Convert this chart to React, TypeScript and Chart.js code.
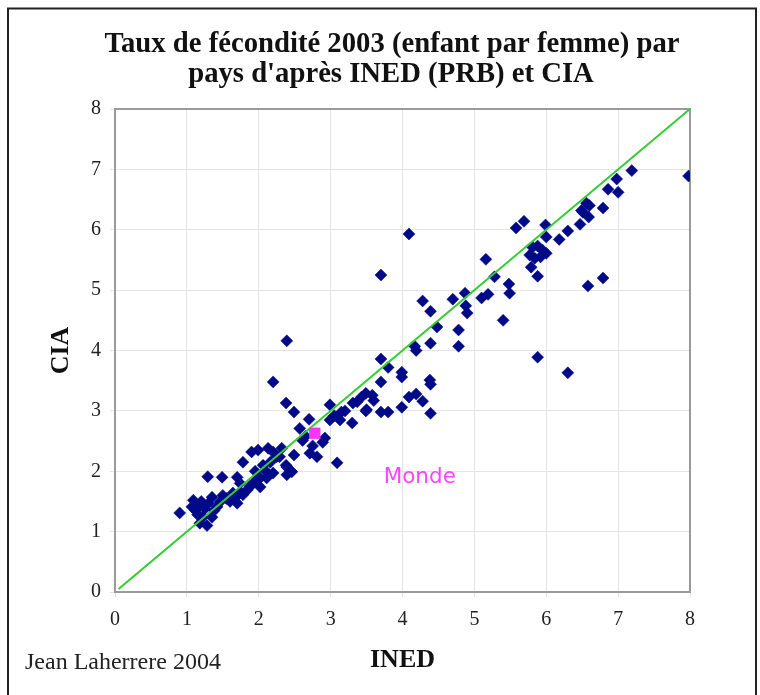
import React, { useEffect, useRef } from "react";
import { Chart, registerables } from "chart.js";

Chart.register(...registerables);

const TITLE_LINES = ["Taux de fécondité 2003 (enfant par femme) par", "pays d'après INED (PRB) et CIA"];
const X_TITLE = "INED";
const Y_TITLE = "CIA";
const CREDIT = "Jean Laherrere 2004";
const WORLD_LABEL = "Monde";
const WORLD_LABEL_AT = [4.24, 1.89];

// Fertility rate per country: INED (x) vs CIA (y)
const INED = [
  0.9, 1.07, 1.09, 1.12, 1.15, 1.15, 1.18, 1.2, 1.22, 1.25,
  1.28, 1.29, 1.3, 1.35, 1.35, 1.38, 1.42, 1.46, 1.49, 1.5,
  1.55, 1.6, 1.64, 1.68, 1.7, 1.7, 1.74, 1.75, 1.78, 1.78,
  1.84, 1.88, 1.9, 1.92, 1.95, 1.99, 2.0, 2.02, 2.02, 2.06,
  2.1, 2.11, 2.13, 2.16, 2.2, 2.2, 2.25, 2.29, 2.32, 2.38,
  2.39, 2.39, 2.46, 2.49, 2.2, 2.39, 2.38, 2.49, 2.57, 2.61,
  2.65, 2.7, 2.71, 2.75, 2.81, 2.89, 2.99, 2.99, 3.05, 3.09,
  3.13, 3.15, 3.3, 3.31, 3.43, 3.5, 3.58, 3.49, 3.6, 3.7,
  3.8, 3.49, 3.7, 3.7, 3.8, 3.7, 4.09, 3.99, 3.99, 4.38,
  4.39, 4.19, 4.09, 4.28, 3.99, 4.39, 4.17, 4.19, 4.39, 4.48,
  4.28, 4.39, 4.7, 4.78, 4.78, 4.87, 4.88, 4.9, 5.1, 5.19,
  5.16, 5.28, 5.4, 5.48, 5.49, 5.58, 5.69, 5.77, 5.79, 5.81,
  5.84, 5.88, 5.88, 5.92, 5.95, 5.99, 6.0, 6.0, 6.18, 6.3,
  6.47, 6.49, 6.51, 6.56, 6.59, 6.6, 6.79, 6.86, 6.98, 7.0,
  7.19, 7.98, 6.58, 6.79, 5.88, 6.3, 3.37, 3.2, 2.92, 2.45
];
const CIA = [
  1.31, 1.41, 1.52, 1.35, 1.41, 1.28, 1.14, 1.5, 1.24, 1.38,
  1.1, 1.91, 1.47, 1.24, 1.57, 1.35, 1.41, 1.49, 1.9, 1.6,
  1.55, 1.5, 1.64, 1.57, 1.47, 1.9, 1.8, 1.65, 1.61, 2.15,
  1.69, 1.75, 2.32, 1.8, 2.0, 2.35, 1.9, 1.74, 1.89, 2.1,
  2.0, 1.89, 2.38, 2.15, 2.32, 1.97, 2.24, 2.24, 2.38, 2.1,
  2.07, 1.94, 1.99, 2.27, 3.48, 4.16, 3.13, 2.98, 2.71, 2.51,
  2.58, 2.86, 2.3, 2.42, 2.24, 2.48, 3.1, 2.85, 2.92, 2.14,
  2.85, 2.98, 2.8, 3.13, 3.23, 3.02, 3.26, 3.29, 3.17, 2.98,
  2.98, 3.0, 3.48, 3.86, 3.72, 5.25, 5.93, 3.64, 3.56, 3.51,
  3.44, 3.28, 3.23, 3.16, 3.06, 2.96, 4.07, 4.0, 4.12, 4.39,
  4.82, 4.65, 4.85, 4.34, 4.07, 4.95, 4.74, 4.62, 4.87, 4.93,
  5.51, 5.22, 4.5, 5.1, 4.95, 6.03, 6.14, 5.58, 5.38, 5.71,
  5.53, 5.73, 5.23, 5.55, 5.66, 6.08, 5.88, 5.61, 5.84, 5.98,
  6.09, 6.32, 6.29, 6.44, 6.21, 6.4, 6.36, 6.67, 6.84, 6.62,
  6.98, 6.89, 5.07, 5.2, 3.89, 3.63, 3.15, 3.0, 2.55, 2.0
];

const WORLD_INED = [2.78];
const WORLD_CIA = [2.63];

const DIAG_INED = [0.05, 8];
const DIAG_CIA = [0.05, 8];

const AXIS_MIN = 0;
const AXIS_MAX = 8;

const SERIF = "'Liberation Serif', 'Times New Roman', Times, serif";

const decor = {
  id: "decor",
  beforeDraw(chart: any) {
    const ctx = chart.ctx;
    ctx.save();
    ctx.fillStyle = "#ffffff";
    ctx.fillRect(0, 0, chart.width, chart.height);
    ctx.restore();
  },
  beforeDatasetsDraw(chart: any) {
    const { ctx, chartArea: a } = chart;
    ctx.save();
    ctx.strokeStyle = "#9a9a9a";
    ctx.lineWidth = 2;
    ctx.strokeRect(a.left, a.top, a.right - a.left, a.bottom - a.top);
    ctx.restore();
  },
  afterDraw(chart: any) {
    const ctx = chart.ctx;
    ctx.save();
    // frame
    ctx.strokeStyle = "#222";
    ctx.lineWidth = 2;
    ctx.strokeRect(8, 8.5, 748, 720);
    // title
    ctx.fillStyle = "#111";
    ctx.font = `bold 28.7px ${SERIF}`;
    ctx.textAlign = "center";
    ctx.textBaseline = "middle";
    ctx.fillText(TITLE_LINES[0], 392, 45);
    ctx.fillText(TITLE_LINES[1], 391, 75);
    // credit
    ctx.font = `24px ${SERIF}`;
    ctx.textAlign = "left";
    ctx.fillStyle = "#222";
    ctx.fillText(CREDIT, 25, 663);
    // world label
    const xs = chart.scales.x;
    const ys = chart.scales.y;
    ctx.font = "21.5px 'DejaVu Sans', Verdana, sans-serif";
    ctx.fillStyle = "#ff44ff";
    ctx.textAlign = "center";
    ctx.fillText(WORLD_LABEL, xs.getPixelForValue(WORLD_LABEL_AT[0]), ys.getPixelForValue(WORLD_LABEL_AT[1]));
    ctx.restore();
  },
};

export default function App() {
  const ref = useRef<HTMLCanvasElement | null>(null);

  useEffect(() => {
    if (!ref.current) return;
    const pts = INED.map((x, i) => ({ x, y: CIA[i] }));
    const world = WORLD_INED.map((x, i) => ({ x, y: WORLD_CIA[i] }));
    const diag = DIAG_INED.map((x, i) => ({ x, y: DIAG_CIA[i] }));
    const tickFont = { family: SERIF, size: 20 };
    const chart = new Chart(ref.current, {
      type: "scatter",
      data: {
        datasets: [
          {
            label: "Monde",
            data: world,
            pointStyle: "rect",
            pointRadius: 8,
            backgroundColor: "#ff33ff",
            borderColor: "#ff33ff",
            borderWidth: 0,
          },
          {
            type: "line",
            label: "diag",
            data: diag,
            borderColor: "#33cc33",
            borderWidth: 2,
            pointRadius: 0,
            fill: false,
          },
          {
            label: "pays",
            data: pts,
            pointStyle: "rectRot",
            pointRadius: 6,
            backgroundColor: "#000a88",
            borderColor: "#000a88",
            borderWidth: 0.5,
          },
        ],
      } as any,
      options: {
        animation: false,
        responsive: false,
        devicePixelRatio: 1,
        layout: { padding: { top: 109, right: 70, left: 0, bottom: 0 } },
        plugins: { legend: { display: false }, tooltip: { enabled: false } },
        scales: {
          x: {
            type: "linear",
            min: AXIS_MIN,
            max: AXIS_MAX,
            afterFit: (s: any) => { s.height = 103; },
            ticks: { stepSize: 1, font: tickFont, color: "#222", padding: 11 },
            grid: { color: "#e4e4e4", lineWidth: 1, tickLength: 5 },
            border: { display: false },
            title: {
              display: true,
              text: X_TITLE,
              color: "#111",
              font: { family: SERIF, size: 26, weight: "bold" },
              padding: { top: 0, bottom: 19 },
            },
          },
          y: {
            type: "linear",
            min: AXIS_MIN,
            max: AXIS_MAX,
            afterFit: (s: any) => { s.width = 115; },
            ticks: { stepSize: 1, font: tickFont, color: "#222", padding: 9 },
            grid: { color: "#e4e4e4", lineWidth: 1, tickLength: 5 },
            border: { display: false },
            title: {
              display: true,
              text: Y_TITLE,
              color: "#111",
              font: { family: SERIF, size: 26, weight: "bold" },
              padding: { top: 46, bottom: 0 },
            },
          },
        },
      } as any,
      plugins: [decor],
    });
    return () => chart.destroy();
  }, []);

  return (
    <canvas
      ref={ref}
      width={760}
      height={695}
      style={{ position: "fixed", left: 0, top: 0, width: 760, height: 695 }}
    />
  );
}
